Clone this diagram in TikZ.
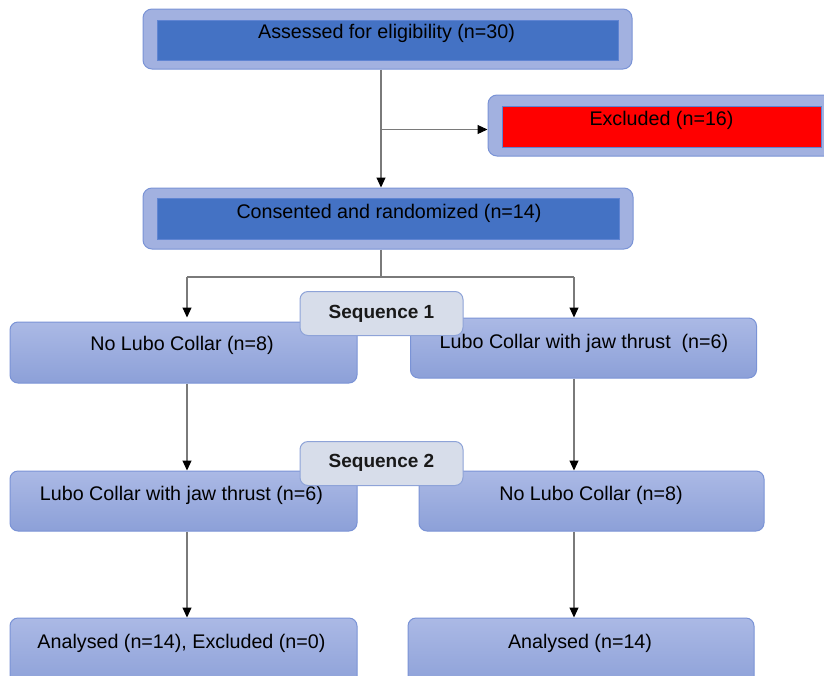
\documentclass[tikz,border=0pt]{standalone}
\usepackage{fontspec}
\setmainfont{Liberation Sans}
\usetikzlibrary{arrows.meta}
\definecolor{boxtop}{HTML}{ABB9E5}
\definecolor{boxbot}{HTML}{8CA0D8}
\definecolor{boxline}{HTML}{7A93D6}
\definecolor{outerfill}{HTML}{A2B1E0}
\definecolor{innerblue}{HTML}{4472C4}
\definecolor{innerline}{HTML}{5F84D2}
\definecolor{seqfill}{HTML}{D7DDEA}
\definecolor{seqline}{HTML}{8EA3D8}
\definecolor{conn}{HTML}{7A7A7A}
\tikzset{
  flowbox/.style={draw=boxline, line width=1pt, rounded corners=8pt,
    top color=boxtop, bottom color=boxbot, minimum width=#1, minimum height=61pt, inner sep=0pt},
  outerbox/.style={draw=boxline, line width=1pt, rounded corners=9pt, fill=outerfill, inner sep=0pt},
  innerbox/.style={draw=innerline, line width=0.6pt, fill=#1, inner sep=0pt},
  seqbox/.style={draw=seqline, line width=1pt, rounded corners=8pt, fill=seqfill,
    minimum width=163pt, minimum height=44pt, inner sep=0pt},
  lbl/.style={font=\fontsize{19.7}{23}\selectfont, inner sep=0pt, text=black, yshift=-2pt},
  seqlbl/.style={font=\fontsize{19}{23}\selectfont\bfseries, inner sep=0pt, text=black!90, yshift=-1.5pt},
  conline/.style={draw=conn, line width=1.1pt},
  arr/.style={conline, -{Triangle[length=10pt,width=9pt,color=black]}}
}
\begin{document}
\begin{tikzpicture}[x=1pt,y=-1pt]
\clip (0,0) rectangle (824,675);
\fill[white] (0,0) rectangle (824,675);

% top box
\node[outerbox, minimum width=489pt, minimum height=60pt] (o1) at (387.5,39) {};
\node[innerbox=innerblue, minimum width=461pt, minimum height=40pt] (i1) at (387.5,40) {};
\node[lbl] (t1) at (386.5,31.5) {Assessed for eligibility (n=30)};

% excluded
\node[outerbox, minimum width=350pt, minimum height=61pt] (o2) at (663,125.5) {};
\node[innerbox=red, minimum width=319pt, minimum height=41pt] (i2) at (661.5,126.5) {};
\node[lbl] (t2) at (661.5,118) {Excluded (n=16)};

% consented
\node[outerbox, minimum width=490pt, minimum height=61pt] (o3) at (388,218.5) {};
\node[innerbox=innerblue, minimum width=462pt, minimum height=41pt] (i3) at (388,218.5) {};
\node[lbl] (t3) at (389,211) {Consented and randomized (n=14)};

% connectors top
\coordinate (b1) at (381,129.5);
\draw[conline] (o1.south -| b1) -- (b1);
\draw[arr] (b1) -- (o2.west |- b1);
\draw[arr] (b1) -- (o3.north -| b1);

% row 1
\node[flowbox=347pt, minimum height=61pt] (l1) at (183.5,352.5) {};
\node[flowbox=346pt, minimum height=60pt] (r1) at (583.5,348) {};
\node[lbl] (tl1) at (182,343) {No Lubo Collar (n=8)};
\node[lbl] (tr1) at (584,341) {Lubo Collar with jaw thrust\ \ (n=6)};

\coordinate (s1) at (381,277);
\coordinate (sl) at (187,277);
\coordinate (sr) at (574,277);
\draw[conline] (o3.south -| s1) -- (s1);
\draw[conline] (sl) -- (sr);
\draw[arr] (sl) -- ([yshift=4pt]l1.north -| sl);
\draw[arr] (sr) -- (r1.north -| sr);

\node[seqbox] (q1) at (381.5,313.5) {};
\node[seqlbl] (tq1) at (381.5,312.5) {Sequence 1};

% row 2
\node[flowbox=347pt, minimum height=60pt] (l2) at (183.5,501) {};
\node[flowbox=345pt, minimum height=60pt] (r2) at (591.5,501) {};
\node[lbl] (tl2) at (181.5,493.5) {Lubo Collar with jaw thrust (n=6)};
\node[lbl] (tr2) at (591,493.5) {No Lubo Collar (n=8)};

\draw[arr] (l1.south -| sl) -- (l2.north -| sl);
\draw[arr] (r1.south -| sr) -- (r2.north -| sr);

\node[seqbox] (q2) at (381.5,463.5) {};
\node[seqlbl] (tq2) at (381.5,461) {Sequence 2};

% row 3
\node[flowbox=347pt, minimum height=70pt] (l3) at (183.5,653) {};
\node[flowbox=346pt, minimum height=70pt] (r3) at (581,653) {};
\node[lbl] (tl3) at (181.5,641.5) {Analysed (n=14), Excluded (n=0)};
\node[lbl] (tr3) at (580,641.5) {Analysed (n=14)};

\draw[arr] (l2.south -| sl) -- (l3.north -| sl);
\draw[arr] (r2.south -| sr) -- (r3.north -| sr);
\end{tikzpicture}
\end{document}
